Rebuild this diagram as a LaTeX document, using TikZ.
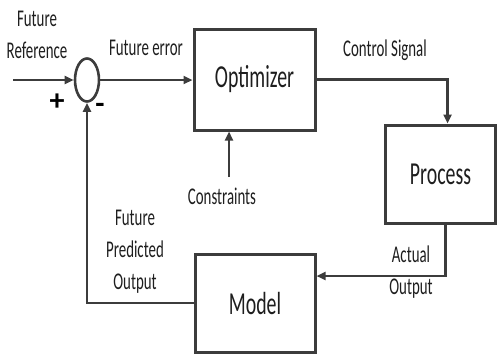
\documentclass[tikz,border=0pt]{standalone}
\usepackage{fontspec}
\setmainfont{Carlito}
\usepackage{graphicx}
\usetikzlibrary{arrows.meta,shapes.geometric}

\definecolor{linegray}{HTML}{3C3C3C}
\definecolor{textgray}{HTML}{1E1E1E}

% condensed lettering used throughout the diagram
\newcommand{\narrow}[1]{\scalebox{0.62}[1]{#1}}
\newcommand{\narrowlines}[1]{\scalebox{0.62}[1]{\begin{tabular}{@{}c@{}}#1\end{tabular}}}

\begin{document}
\begin{tikzpicture}[x=1pt,y=-1pt,
  blockbox/.style={draw=linegray,line width=3pt,rectangle,inner sep=0pt,
    text=textgray,font=\fontsize{32}{38}\selectfont},
  sumjunction/.style={draw=linegray,line width=2.6pt,ellipse,fill=white,
    minimum width=24pt,minimum height=43pt,inner sep=0pt},
  lbl/.style={text=textgray,inner sep=0pt,font=\fontsize{24}{32}\selectfont},
  sign/.style={text=black,inner sep=0pt,font=\fontsize{30}{30}\selectfont\bfseries},
  flow/.style={draw=linegray,line width=2.6pt,
    -{Triangle[length=9pt,width=8pt]}},
  wire/.style={draw=linegray,line width=2.6pt}
]
\useasboundingbox (0,0) rectangle (497,356);

% blocks
\node[blockbox,minimum width=121pt,minimum height=101pt] (opt)  at (254.5,79.5) {\narrow{Optimizer}};
\node[blockbox,minimum width=110pt,minimum height=98pt]  (proc) at (440.5,174)  {\narrow{Process}};
\node[blockbox,minimum width=120pt,minimum height=98pt]  (mod)  at (255,303)    {\narrow{Model}};

% summing junction
\node[sumjunction] (sum) at (87,80) {};

% free ends of the external signals
\coordinate (refin) at (13,80);
\coordinate (consin) at (229,177);

% labels
\node[lbl] (reflbl)  at (37,36)  {\narrowlines{Future\\Reference}};
\node[lbl,anchor=base] (errlbl)  at (146,55) {\narrow{Future error}};
\node[lbl,anchor=base] (ctrllbl) at (385,56) {\narrow{Control Signal}};
\node[lbl,anchor=base] (conslbl) at (222,204) {\narrow{Constraints}};
\node[lbl] (predlbl) at (135,251) {\narrowlines{Future\\Predicted\\Output}};
\node[lbl] (actlbl)  at (411,272) {\narrowlines{Actual\\Output}};
\node[sign] (plus)  at (57,102) {+};
\node[sign] (minus) at (100,108) {-};

% signal paths
\draw[flow] (refin) -- (sum.west);
\draw[flow] (sum.east) -- (sum.east -| opt.west);
\draw[flow] (opt.east) -| ([xshift=7pt]proc.north);
\draw[flow] ([xshift=5pt]proc.south) |- ([yshift=27pt]mod.east);
\draw[flow] (mod.west) -| (sum.south);
\draw[flow] (consin) -- (consin |- opt.south);
\end{tikzpicture}
\end{document}
